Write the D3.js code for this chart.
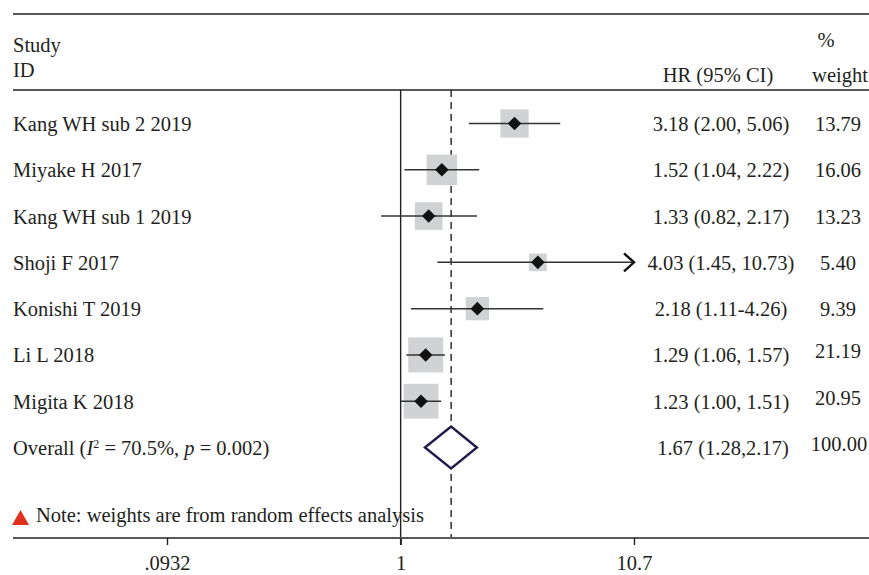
<!DOCTYPE html>
<html>
<head>
<meta charset="utf-8">
<script src="https://cdn.jsdelivr.net/npm/d3@7"></script>
<style>
  body { margin: 0; background: #fff; }
  svg { display: block; }
  text { font-family: "Liberation Serif", "Times New Roman", serif; fill: #231f20; }
</style>
</head>
<body>
<svg id="chart" width="869" height="575"></svg>
<script>
// Study-level hazard ratios (95% CI) and random-effects weights
const studies = ["Kang WH sub 2 2019", "Miyake H 2017", "Kang WH sub 1 2019", "Shoji F 2017",
                 "Konishi T 2019", "Li L 2018", "Migita K 2018"];
const hr = [3.18, 1.52, 1.33, 4.03, 2.18, 1.29, 1.23];
const ciLower = [2.00, 1.04, 0.82, 1.45, 1.11, 1.06, 1.00];
const ciUpper = [5.06, 2.22, 2.17, 10.73, 4.26, 1.57, 1.51];
const ciLabels = ["3.18 (2.00, 5.06)", "1.52 (1.04, 2.22)", "1.33 (0.82, 2.17)", "4.03 (1.45, 10.73)",
                  "2.18 (1.11-4.26)", "1.29 (1.06, 1.57)", "1.23 (1.00, 1.51)"];
const weights = [13.79, 16.06, 13.23, 5.40, 9.39, 21.19, 20.95];

// Pooled estimate
const overallHR = 1.67;
const overallLower = 1.28;
const overallUpper = 2.17;
const overallCiLabel = "1.67 (1.28,2.17)";
const overallWeight = 100.00;

// Axis ticks
const tickValues = [0.0932, 1, 10.7];
const tickLabels = [".0932", "1", "10.7"];

const W = 869, H = 575;
const svg = d3.select("#chart");
const fontSize = 20.5;
const ink = "#231f20";

const x = d3.scaleLog().domain([0.0932, 10.7]).range([167, 634]);
const rowKeys = studies.concat(["__overall__"]);
const y = d3.scalePoint().domain(rowKeys).range([123.5, 447.5]);
const box = d3.scaleSqrt().domain([0, 21.19]).range([0, 35]);

const topRule = 14, headRule = 90, axisY = 538;
const left = 13, right = W;
const hrCol = 721, wCol = 838;
const fmtW = d3.format(".2f");

// Header rules
svg.append("line").attr("x1", left).attr("x2", right).attr("y1", topRule).attr("y2", topRule)
  .attr("stroke", ink).attr("stroke-width", 1.6);
svg.append("line").attr("x1", left).attr("x2", right).attr("y1", headRule).attr("y2", headRule)
  .attr("stroke", ink).attr("stroke-width", 1.6);

// Header text
const head = svg.append("g").style("font-size", fontSize + "px");
head.append("text").attr("x", left).attr("y", 52).text("Study");
head.append("text").attr("x", left).attr("y", 77).text("ID");
head.append("text").attr("x", hrCol - 3).attr("y", 82).attr("text-anchor", "middle").text("HR (95% CI)");
head.append("text").attr("x", 826).attr("y", 47).attr("text-anchor", "middle").text("%");
head.append("text").attr("x", wCol + 2).attr("y", 82).attr("text-anchor", "middle").text("weight");

// Reference line at HR = 1
svg.append("line").attr("x1", x(1)).attr("x2", x(1)).attr("y1", headRule).attr("y2", axisY + 7)
  .attr("stroke", ink).attr("stroke-width", 1.4);

// Dashed line at pooled estimate
svg.append("line").attr("x1", x(overallHR)).attr("x2", x(overallHR)).attr("y1", headRule).attr("y2", axisY)
  .attr("stroke", ink).attr("stroke-width", 1.4).attr("stroke-dasharray", "7,5");

// Study rows
const xMax = x.domain()[1];
const rows = svg.append("g").selectAll("g").data(studies).join("g")
  .attr("transform", d => `translate(0,${y(d)})`);

rows.append("rect")
  .attr("x", (d, i) => x(hr[i]) - box(weights[i]) / 2)
  .attr("y", (d, i) => -box(weights[i]) / 2)
  .attr("width", (d, i) => box(weights[i]))
  .attr("height", (d, i) => box(weights[i]))
  .attr("fill", "#d1d2d3");

rows.append("line")
  .attr("x1", (d, i) => x(ciLower[i]))
  .attr("x2", (d, i) => x(Math.min(ciUpper[i], xMax)))
  .attr("y1", 0).attr("y2", 0)
  .attr("stroke", "#333").attr("stroke-width", 1.5);

// Open arrowhead where the interval runs past the axis
rows.filter((d, i) => ciUpper[i] > xMax).append("path")
  .attr("d", () => { const e = x(xMax); return `M${e - 10},-9 L${e},0 L${e - 10},9`; })
  .attr("fill", "none").attr("stroke", "#111").attr("stroke-width", 2.4);

rows.append("path")
  .attr("d", (d, i) => { const cx = x(hr[i]); const r = 6.8;
    return `M${cx - r},0 L${cx},${-r} L${cx + r},0 L${cx},${r} Z`; })
  .attr("fill", "#111");

rows.append("text").attr("x", left).attr("y", 7.5).style("font-size", fontSize + "px").text(d => d);
rows.append("text").attr("x", hrCol).attr("y", 7.5).attr("text-anchor", "middle")
  .style("font-size", fontSize + "px").text((d, i) => ciLabels[i]);
rows.append("text").attr("x", wCol).attr("y", (d, i) => i >= 5 ? 3.5 : 7.5).attr("text-anchor", "middle")
  .style("font-size", fontSize + "px").text((d, i) => fmtW(weights[i]));

// Pooled row
const oy = y("__overall__");
const og = svg.append("g").attr("transform", `translate(0,${oy})`);
og.append("path")
  .attr("d", `M${x(overallLower)},0 L${x(overallHR)},-21 L${x(overallUpper)},0 L${x(overallHR)},21 Z`)
  .attr("fill", "#fff").attr("stroke", "#1f1c4d").attr("stroke-width", 2.4);

const ot = og.append("text").attr("x", left).attr("y", 7.5).style("font-size", fontSize + "px");
ot.append("tspan").text("Overall (");
ot.append("tspan").style("font-style", "italic").text("I");
ot.append("tspan").attr("dy", -7).style("font-size", "12px").text("2");
ot.append("tspan").attr("dy", 7).text(" = 70.5%, ");
ot.append("tspan").style("font-style", "italic").text("p");
ot.append("tspan").text(" = 0.002)");

og.append("text").attr("x", hrCol + 2).attr("y", 7.5).attr("text-anchor", "middle")
  .style("font-size", fontSize + "px").text(overallCiLabel);
og.append("text").attr("x", wCol + 1).attr("y", 3.5).attr("text-anchor", "middle")
  .style("font-size", fontSize + "px").text(fmtW(overallWeight));

// Note
svg.append("path").attr("d", "M12,525 L20.5,510 L29,525 Z").attr("fill", "#e2301f");
svg.append("text").attr("x", 36).attr("y", 522).style("font-size", fontSize + "px")
  .text("Note: weights are from random effects analysis");

// X axis
svg.append("line").attr("x1", left).attr("x2", right).attr("y1", axisY).attr("y2", axisY)
  .attr("stroke", "#58595b").attr("stroke-width", 2);
const axis = d3.axisBottom(x).tickValues(tickValues)
  .tickFormat((d, i) => tickLabels[i]).tickSize(7).tickPadding(10);
const ag = svg.append("g").attr("transform", `translate(0,${axisY})`).call(axis);
ag.select(".domain").remove();
ag.selectAll(".tick line").attr("stroke", ink).attr("stroke-width", 1.4);
ag.selectAll(".tick text").style("font-size", fontSize + "px")
  .style("font-family", "'Liberation Serif', 'Times New Roman', serif").attr("fill", ink);
</script>
</body>
</html>
